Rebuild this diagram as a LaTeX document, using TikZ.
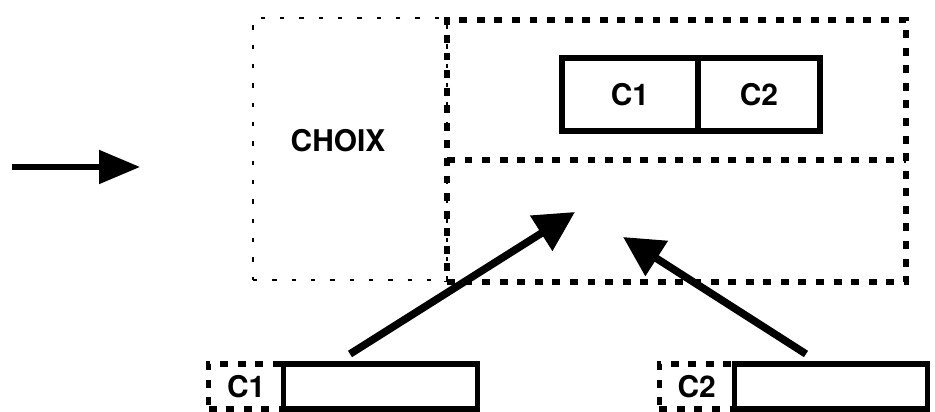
\documentclass[tikz,border=0pt]{standalone}
\usepackage{fontspec}
\setmainfont{TeX Gyre Heros}
\usetikzlibrary{positioning,arrows.meta}

\begin{document}
\begin{tikzpicture}[
  pointille/.style={draw, line width=1.1pt, dash pattern=on 2.5pt off 8.5pt},
  tirets/.style={draw, line width=2.9pt, dash pattern=on 4.5pt off 5.5pt},
  plein/.style={draw, line width=3.1pt},
  boite/.style={inner sep=0pt, outer sep=0pt, font=\fontsize{17}{20}\selectfont\bfseries},
  fleche/.style={line width=4.3pt, -{Triangle[length=0.8cm,width=0.8cm]}}
]
\useasboundingbox (0,0) rectangle (18.7,8.24);
% Choix
\node[pointille, boite, minimum width=3.88cm, minimum height=5.24cm] (choix) at (7.0,5.26) {};
\node[boite] (titre) at ([xshift=-0.24cm,yshift=0.16cm]choix.center) {CHOIX};
% Zone a droite
\node[tirets, boite, minimum width=9.18cm, minimum height=5.24cm] (zone) at (13.53,5.22) {};
\coordinate (sep) at (0,5.04);
\draw[tirets] (zone.west |- sep) -- (zone.east |- sep);
\node[plein, boite, minimum width=2.72cm, minimum height=1.46cm] (case1) at (12.6,6.35) {C1};
\node[plein, boite, minimum width=2.44cm, minimum height=1.46cm, right=0pt of case1] (case2) {C2};
% Fleche d'entree
\coordinate (depart) at (0.24,4.9);
\coordinate (arrivee) at (2.8,4.9);
\draw[line width=3pt, -{Triangle[length=0.82cm,width=0.66cm]}] (depart) -- (arrivee);
% Boites du bas
\coordinate (cible1) at (11.5,4.0);
\coordinate (cible2) at (12.46,3.5);
\foreach \i/\x/\dx in {1/7.61/-0.61,2/16.62/-0.5}
{
  \node[plein, boite, minimum width=3.87cm, minimum height=0.9cm] (bloc\i) at (\x,0.51) {};
  \node[tirets, boite, minimum width=1.5cm, minimum height=0.9cm, left=0pt of bloc\i] (etiq\i) {C\i};
  \draw[fleche] ([shift={(\dx,0.2)}]bloc\i.north) -- (cible\i);
}
\end{tikzpicture}
\end{document}
